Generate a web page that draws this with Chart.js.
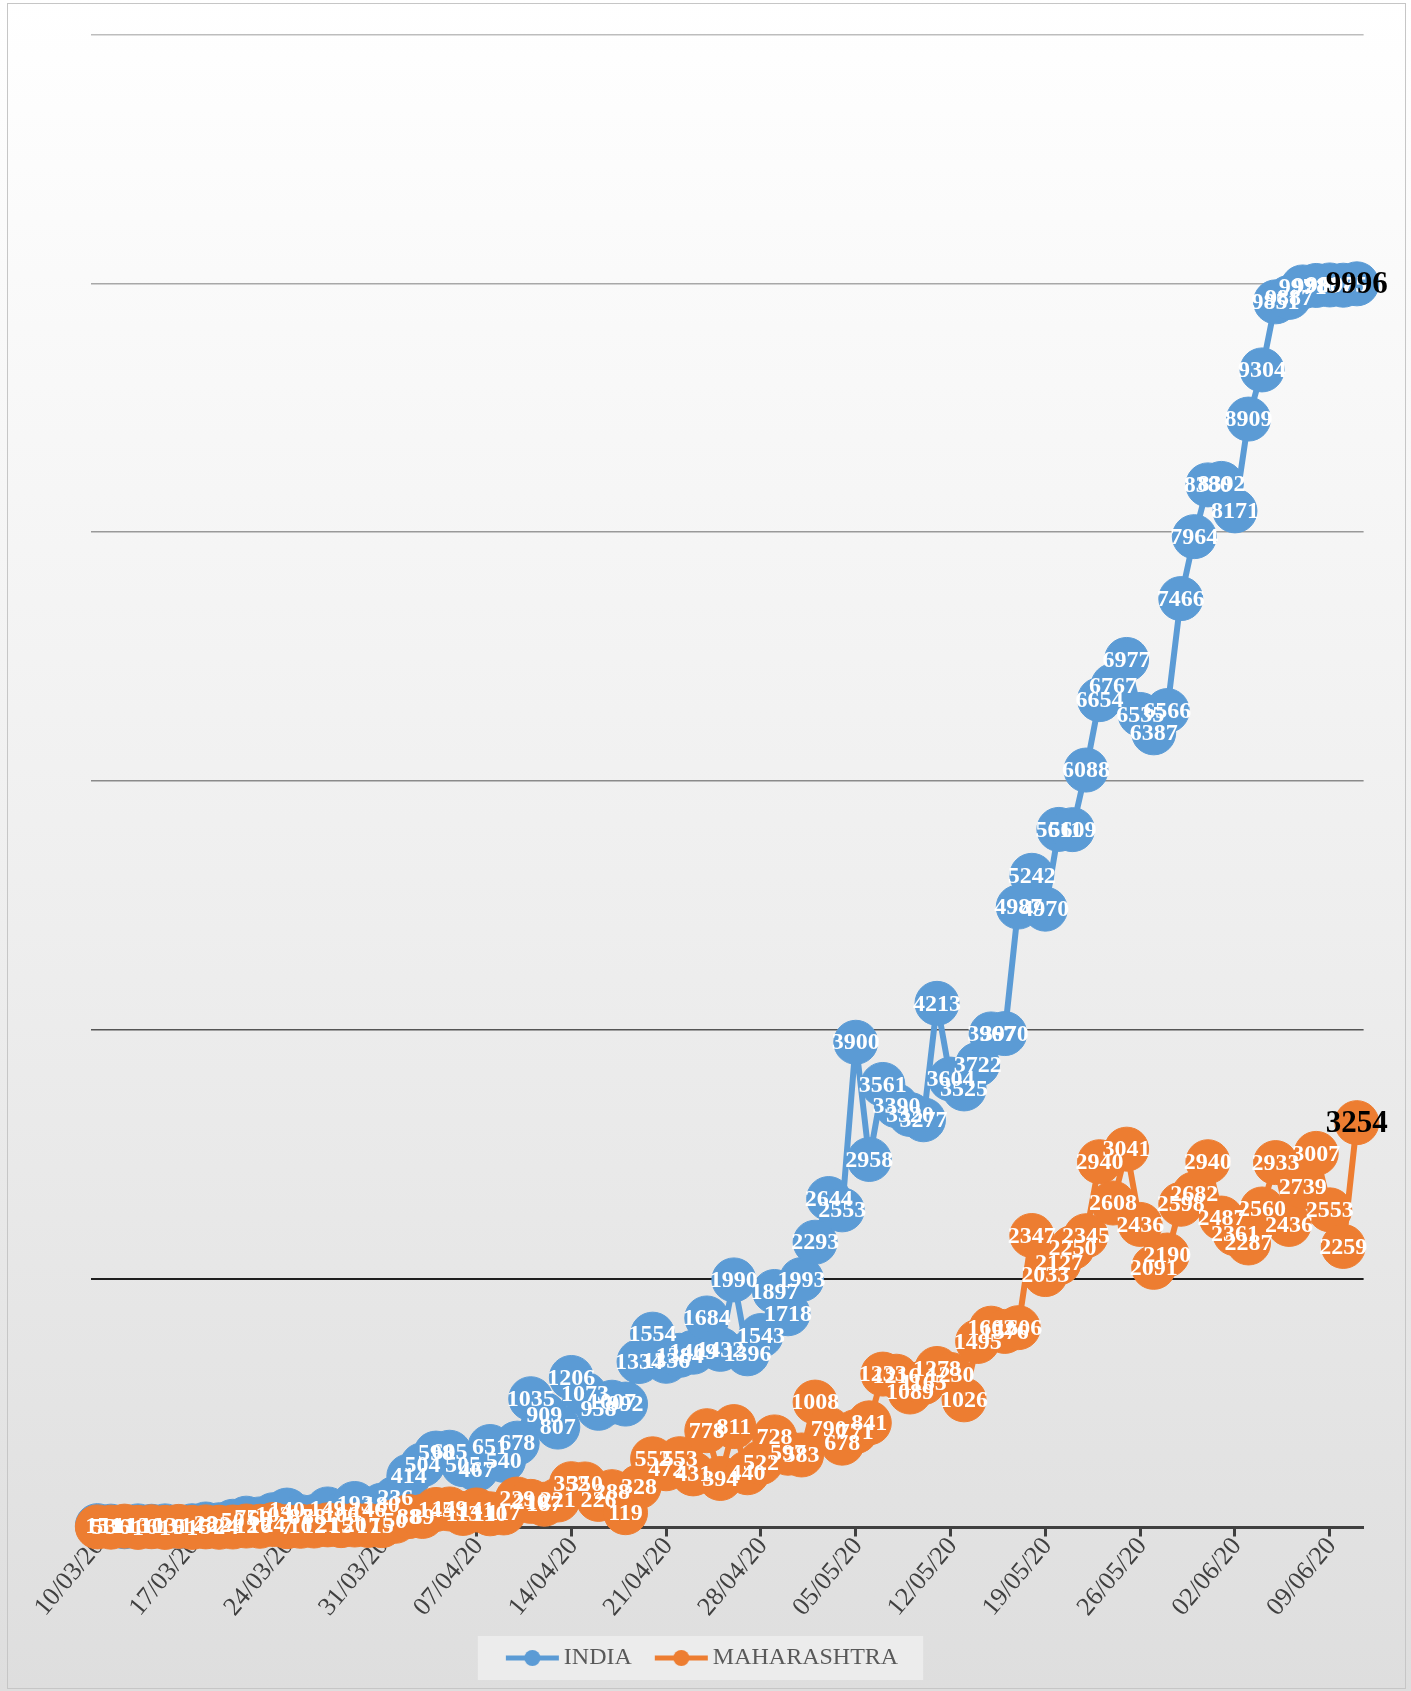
<!DOCTYPE html>
<html><head><meta charset="utf-8">
<script src="https://cdn.jsdelivr.net/npm/chart.js@4.4.1/dist/chart.umd.min.js"></script>
<style>
html,body{margin:0;padding:0;background:#fff;}
#wrap{position:relative;width:1411px;height:1691px;background:linear-gradient(to bottom,#ffffff 0%,#eeeeee 55%,#dedede 100%);}
#frame{position:absolute;left:7px;top:3px;width:1397px;height:1684px;border:1px solid #c6c6c6;pointer-events:none;}
canvas{display:block;position:absolute;left:0;top:0;}
</style></head><body>
<div id="wrap"><canvas id="c" width="1411" height="1691"></canvas><div id="frame"></div></div>
<script>
const dates = ["10/03/20","11/03/20","12/03/20","13/03/20","14/03/20","15/03/20","16/03/20","17/03/20","18/03/20","19/03/20",
"20/03/20","21/03/20","22/03/20","23/03/20","24/03/20","25/03/20","26/03/20","27/03/20","28/03/20","29/03/20","30/03/20","31/03/20",
"01/04/20","02/04/20","03/04/20","04/04/20","05/04/20","06/04/20","07/04/20","08/04/20","09/04/20","10/04/20","11/04/20","12/04/20",
"13/04/20","14/04/20","15/04/20","16/04/20","17/04/20","18/04/20","19/04/20","20/04/20","21/04/20","22/04/20","23/04/20","24/04/20",
"25/04/20","26/04/20","27/04/20","28/04/20","29/04/20","30/04/20","01/05/20","02/05/20","03/05/20","04/05/20","05/05/20","06/05/20",
"07/05/20","08/05/20","09/05/20","10/05/20","11/05/20","12/05/20","13/05/20","14/05/20","15/05/20","16/05/20","17/05/20","18/05/20",
"19/05/20","20/05/20","21/05/20","22/05/20","23/05/20","24/05/20","25/05/20","26/05/20","27/05/20","28/05/20","29/05/20","30/05/20",
"31/05/20","01/06/20","02/06/20","03/06/20","04/06/20","05/06/20","06/06/20","07/06/20","08/06/20","09/06/20","10/06/20","11/06/20"];

const tickIndex = [0,7,14,21,28,35,42,49,56,63,70,77,84,91];

const india = [15,11,6,13,10,13,6,14,28,22,
50,75,69,103,140,87,88,149,106,193,146,180,
236,414,504,598,605,505,467,651,540,678,1035,909,
807,1206,1073,958,1007,992,1334,1554,1336,1384,1409,1684,
1432,1990,1396,1543,1897,1718,1993,2293,2644,2553,3900,2958,
3561,3390,3320,3277,4213,3604,3525,3722,3967,3970,4987,5242,
4970,5611,5609,6088,6654,6767,6977,6535,6387,6566,7466,7964,
8380,8392,8171,8909,9304,9851,9887,9971,9983,9987,9985,9996];

const maharashtra = [5,3,11,1,6,1,9,1,5,2,
4,12,10,24,7,10,12,21,15,20,17,15,
50,88,89,145,149,113,141,110,117,229,210,187,
221,352,350,226,288,119,328,552,472,553,431,778,
394,811,440,522,728,597,583,1008,790,678,771,841,
1233,1216,1089,1165,1278,1230,1026,1495,1602,1576,1606,2347,
2033,2127,2250,2345,2940,2608,3041,2436,2091,2190,2598,2682,
2940,2487,2361,2287,2560,2933,2436,2739,3007,2553,2259,3254];

const seriesNames = ["INDIA","MAHARASHTRA"];
const seriesColors = ["#5B9BD5","#ED7D31"];

function legendMarker(color){
  const c=document.createElement('canvas'); c.width=57; c.height=20;
  const g=c.getContext('2d');
  g.strokeStyle=color; g.lineWidth=5;
  g.beginPath(); g.moveTo(2,10); g.lineTo(55,10); g.stroke();
  g.fillStyle=color; g.beginPath(); g.arc(28.5,10,8,0,Math.PI*2); g.fill();
  return c;
}
const markers = seriesColors.map(legendMarker);

const gridShade = {2000:'#1e1e1e',4000:'#555555',6000:'#8a8a8a',8000:'#999999',10000:'#a8a8a8',12000:'#bdbdbd'};

const valueLabels = {
  id:'valueLabels',
  afterDatasetsDraw(chart){
    const ctx=chart.ctx;
    ctx.save();
    ctx.textAlign='center'; ctx.textBaseline='middle';
    chart.data.datasets.forEach((ds,di)=>{
      const meta=chart.getDatasetMeta(di);
      const n=meta.data.length;
      meta.data.forEach((pt,i)=>{
        const last=(i===n-1);
        ctx.font = last ? 'bold 31px "Liberation Serif"' : 'bold 24px "Liberation Serif"';
        ctx.fillStyle = last ? '#000000' : '#ffffff';
        ctx.fillText(String(ds.data[i].y), pt.x, pt.y+1);
      });
    });
    ctx.restore();
  }
};

const legendBox = {
  id:'legendBox',
  beforeDraw(chart){
    const lg=chart.legend; if(!lg||!lg.legendHitBoxes||!lg.legendHitBoxes.length) return;
    const hb=lg.legendHitBoxes;
    const cy=hb[0].top+hb[0].height/2;
    const l=hb[0].left-35, r=hb[hb.length-1].left+hb[hb.length-1].width+25;
    const ctx=chart.ctx; ctx.save();
    ctx.fillStyle='rgba(236,236,236,1)';
    ctx.fillRect(l,cy-22,r-l,44);
    ctx.restore();
  }
};

new Chart(document.getElementById('c'),{
  type:'line',
  data:{
    datasets:[
      {label:seriesNames[0],data:india.map((y,i)=>({x:i,y})),borderColor:seriesColors[0],backgroundColor:seriesColors[0],
       borderWidth:6,pointRadius:22,pointHoverRadius:22,pointBackgroundColor:seriesColors[0],pointBorderColor:seriesColors[0],pointBorderWidth:1,
       tension:0,clip:false,order:2,yAxisID:'y'},
      {label:seriesNames[1],data:maharashtra.map((y,i)=>({x:i,y})),borderColor:seriesColors[1],backgroundColor:seriesColors[1],
       borderWidth:6,pointRadius:22,pointHoverRadius:22,pointBackgroundColor:seriesColors[1],pointBorderColor:seriesColors[1],pointBorderWidth:1,
       tension:0,clip:false,order:1,yAxisID:'y'}
    ]
  },
  options:{
    responsive:false,animation:false,devicePixelRatio:1,
    layout:{padding:{top:34.5,bottom:11,left:0,right:0}},
    plugins:{
      tooltip:{enabled:false},
      legend:{display:true,position:'bottom',
        labels:{usePointStyle:true,pointStyleWidth:39,padding:30,color:'#595959',
          font:{family:'"Liberation Serif"',size:24},
          sort:(a,b)=>a.datasetIndex-b.datasetIndex,
          generateLabels(chart){
            return Chart.defaults.plugins.legend.labels.generateLabels(chart).map(it=>Object.assign(it,{pointStyle:markers[it.datasetIndex]}));
          }}}
    },
    scales:{
      x:{type:'linear',min:-0.5,max:93.5,
        afterBuildTicks(scale){ scale.ticks = tickIndex.map(v=>({value:v})); },
        afterFit(scale){ scale.height = 88.5; },
        ticks:{autoSkip:false,minRotation:50,maxRotation:50,padding:-5,labelOffset:2,color:'#404040',
          font:{family:'"Liberation Serif"',size:26},
          callback:(v)=>dates[v]},
        grid:{display:true,drawOnChartArea:false,drawTicks:true,tickLength:9,tickColor:'#404040',tickWidth:3,color:'#404040'},
        border:{display:true,color:'#404040',width:3}
      },
      y:{type:'linear',position:'left',min:0,max:12000,
        afterFit(scale){ scale.width = 90.6; },
        ticks:{display:false,stepSize:2000},
        grid:{drawTicks:false,lineWidth:(c)=> c.tick && c.tick.value===2000 ? 2 : 1.5,
          color:(c)=> (c.tick && gridShade[c.tick.value]) || 'rgba(0,0,0,0)'},
        border:{display:false}
      },
      yR:{type:'linear',position:'right',display:true,
        afterFit(scale){ scale.width = 47.4; },
        ticks:{display:false},grid:{display:false},border:{display:false}
      }
    }
  },
  plugins:[legendBox,valueLabels]
});
</script>
</body></html>
